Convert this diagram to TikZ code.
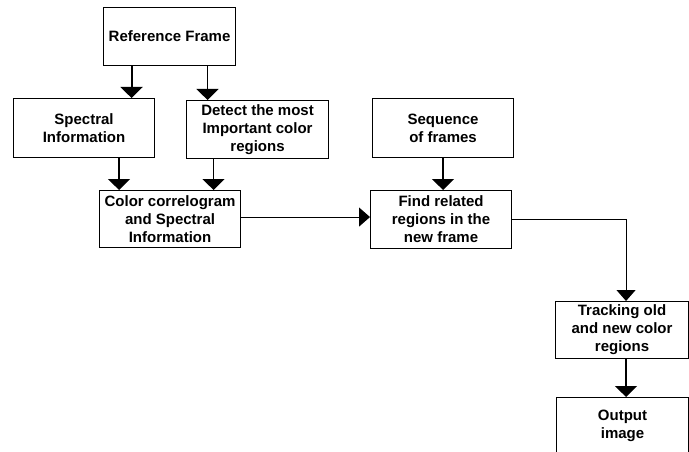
\documentclass[tikz,border=0pt]{standalone}
\usepackage{fontspec}
\setmainfont{Liberation Sans}
\usetikzlibrary{arrows.meta}
\begin{document}
\begin{tikzpicture}[x=1pt,y=-1pt,
  box/.style={draw, line width=1.1pt, inner sep=0pt, align=center, anchor=north west,
    font=\bfseries\fontsize{15}{18}\selectfont},
  conn/.style={line width=1.5pt, -{Triangle[width=22pt,length=11pt]}},
  thinconn/.style={line width=1.1pt, -{Triangle[width=19pt,length=11pt]}}]
\path[use as bounding box] (0,0) rectangle (689,452);
\node[box, minimum width=132pt, minimum height=58pt] (ref) at (103,7) {Reference Frame};
\node[box, minimum width=141pt, minimum height=59pt] (spec) at (13,98) {Spectral\\Information};
\node[box, minimum width=142pt, minimum height=58pt] (detect) at (186,100) {Detect the most\\Important color\\regions};
\node[box, minimum width=141pt, minimum height=57pt] (corr) at (99,190) {Color correlogram\\and Spectral\\Information};
\node[box, minimum width=141pt, minimum height=59pt] (seq) at (372,98) {Sequence\\of frames};
\node[box, minimum width=141pt, minimum height=58pt] (find) at (370,190) {Find related\\regions in the\\new frame};
\node[box, minimum width=133pt, minimum height=57pt] (track) at (555,301) {Tracking old\\and new color\\regions};
\node[box, minimum width=132pt, minimum height=57pt] (out) at (556,397) {Output\\image};
\draw[conn, line width=1.9pt] ([xshift=-38pt]ref.south) -- ([xshift=-38pt]ref.south |- spec.north);
\draw[conn] ([xshift=38pt]ref.south) -- ([xshift=38pt]ref.south |- detect.north);
\draw[conn] ([xshift=35pt]spec.south) -- ([xshift=35pt]spec.south |- corr.north);
\draw[conn] ([xshift=-44pt]detect.south) -- ([xshift=-44pt]detect.south |- corr.north);
\draw[conn] (seq.south) -- (seq.south |- find.north);
\draw[thinconn] ([yshift=2pt]corr.east) -- ([yshift=2pt]corr.east -| find.west);
\draw[thinconn] (find.east) -| ([xshift=4pt]track.north);
\draw[conn] ([xshift=4pt]track.south) -- ([xshift=4pt]track.south |- out.north);
\end{tikzpicture}
\end{document}
